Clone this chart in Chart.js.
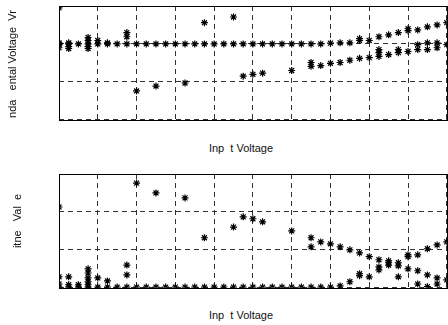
<!DOCTYPE html>
<html>
<head>
<meta charset="utf-8">
<script src="https://cdn.jsdelivr.net/npm/chart.js@4/dist/chart.umd.min.js"></script>
<style>
  html, body { margin: 0; padding: 0; background: #fff; width: 448px; height: 325px; overflow: hidden; }
  .plot { position: absolute; left: 0; }
  .lbl { position: absolute; font-family: "Liberation Sans", Arial, sans-serif; font-size: 11px; color: #111; white-space: pre; }
  .rot { transform: translate(-50%, -50%) rotate(-90deg); }
  .hor { transform: translate(-50%, -50%); }
</style>
</head>
<body>
<canvas id="topChart" class="plot" style="top:0px"></canvas>
<canvas id="bottomChart" class="plot" style="top:168px"></canvas>
<div class="lbl hor" style="left:241px; top:148px">Inp  t Voltage</div>
<div class="lbl hor" style="left:241px; top:315px">Inp  t Voltage</div>
<div class="lbl rot" style="left:12px; top:64px">nda   ental Voltage  Vr</div>
<div class="lbl rot" style="left:17px; top:221px">itne   Val  e</div>
<script>
// pasos de entrada (eje x)
const steps = [0,1,2,3,4,5,6,7,8,9,10,11,12,13,14,15,16,17,18,19,20,21,22,23,24,25,26,27,28,29,30,31,32,33,34,35,36,37,38,39,40];
const xTicks = [0, 4, 8, 12, 16, 20, 24, 28, 32, 36, 40];
const yTicks = [0, 1, 2, 3];

// grafico superior
const topUpper = [2.0,2.0,2.0,2.0,2.0,2.0,2.0,2.0,2.0,2.0,2.0,2.0,2.0,2.0,2.0,2.0,2.0,2.0,2.0,2.0,2.0,2.0,2.0,2.0,2.0,2.0,2.0,2.0,2.02,2.03,2.03,2.09,2.09,2.19,2.24,2.30,2.35,2.37,2.45,2.50,2.56];
const topLower = [null,null,null,null,null,null,null,null,0.76,null,0.89,null,null,0.97,null,null,null,null,null,1.15,1.20,1.23,null,null,1.30,null,1.41,1.43,1.49,1.51,1.57,1.62,1.64,1.67,1.72,1.77,1.80,1.85,1.85,1.90,1.98];
const topExtraX = [0,0,0,0,1,1,1,3,3,3,3,4,5,7,7,15,18,26,31,33,33,35,36,37,38,39];
const topExtraY = [2.95,2.03,1.98,1.90,2.03,1.93,1.88,2.17,2.09,1.93,1.88,2.09,2.03,2.30,2.19,2.56,2.71,1.51,2.14,1.77,1.85,1.85,2.40,1.98,2.03,2.03];

// grafico inferior
const botBase = [0.02,0.02,0.02,0.02,0.02,0.02,0.02,0.02,0.02,0.02,0.02,0.02,0.02,0.02,0.02,0.02,0.02,0.02,0.02,0.02,0.02,0.02,0.02,0.02,0.02,0.02,0.02,0.02,0.02,null,null,null,null,null,null,null,null,0.10,0.03,0.10,null];
const botFalling = [2.13,null,null,null,null,null,null,null,2.76,null,2.50,null,null,2.37,null,1.32,null,null,1.60,1.87,1.82,1.74,null,null,1.50,null,1.32,1.21,1.16,1.08,1.00,0.92,0.82,0.74,0.66,0.58,0.50,0.45,0.34,0.26,0.21];
const botRising = [null,null,null,null,null,null,null,null,null,null,null,null,null,null,null,null,null,null,null,null,null,null,null,null,null,null,null,null,null,0.05,0.16,0.32,0.29,0.47,0.60,0.66,0.82,0.87,1.03,1.13,1.21];
const botExtraX = [0,0,1,1,2,3,3,3,3,3,4,5,7,7,26,31,33,34,35,36];
const botExtraY = [0.29,0.10,0.29,0.08,0.08,0.50,0.39,0.26,0.16,0.08,0.26,0.18,0.60,0.34,1.08,0.37,0.55,0.71,0.29,0.87];

function toPoints(arr) {
    return steps.map((x, i) => ({ x: x, y: arr[i] })).filter(p => p.y !== null);
}
function pairPoints(xs, ys) {
    return xs.map((x, i) => ({ x: x, y: ys[i] }));
}

// caja completa alrededor del area
const boxPlugin = {
    id: 'box',
    afterDraw(chart) {
        const a = chart.chartArea;
        const c = chart.ctx;
        c.save();
        c.strokeStyle = '#000';
        c.lineWidth = 1;
        c.setLineDash([]);
        c.strokeRect(Math.round(a.left) + 0.5, Math.round(a.top) + 0.5, Math.round(a.right - a.left), Math.round(a.bottom - a.top));
        c.restore();
    }
};

function starSet(points) {
    return {
        data: points,
        pointStyle: 'star',
        pointRadius: 3.5,
        pointBorderColor: '#000',
        pointBackgroundColor: '#000',
        pointBorderWidth: 1.2,
        showLine: false
    };
}

function makeChart(id, sets, padding) {
    const ctx = document.getElementById(id);
    return new Chart(ctx, {
        type: 'scatter',
        data: { datasets: sets.map(starSet) },
        options: {
            responsive: false,
            animation: false,
            layout: { padding: padding },
            plugins: { legend: { display: false }, tooltip: { enabled: false } },
            scales: {
                x: {
                    type: 'linear', min: 0, max: 40,
                    afterBuildTicks: (s) => { s.ticks = xTicks.map(v => ({ value: v })); },
                    ticks: { display: false },
                    grid: { color: '#333', lineWidth: 1, drawTicks: false },
                    border: { display: false, dash: [5, 4] }
                },
                y: {
                    min: 0, max: 3,
                    afterBuildTicks: (s) => { s.ticks = yTicks.map(v => ({ value: v })); },
                    ticks: { display: false },
                    grid: { color: '#333', lineWidth: 1, drawTicks: false },
                    border: { display: false, dash: [5, 4] }
                }
            }
        },
        plugins: [boxPlugin]
    });
}

const c1 = document.getElementById('topChart');
c1.width = 452; c1.height = 125;
const c2 = document.getElementById('bottomChart');
c2.width = 452; c2.height = 125;

makeChart('topChart', [toPoints(topUpper), toPoints(topLower), pairPoints(topExtraX, topExtraY)], { left: 59, top: 6, right: 2, bottom: 4 });
makeChart('bottomChart', [toPoints(botBase), toPoints(botFalling), toPoints(botRising), pairPoints(botExtraX, botExtraY)], { left: 59, top: 6, right: 2, bottom: 5 });
</script>
</body>
</html>
